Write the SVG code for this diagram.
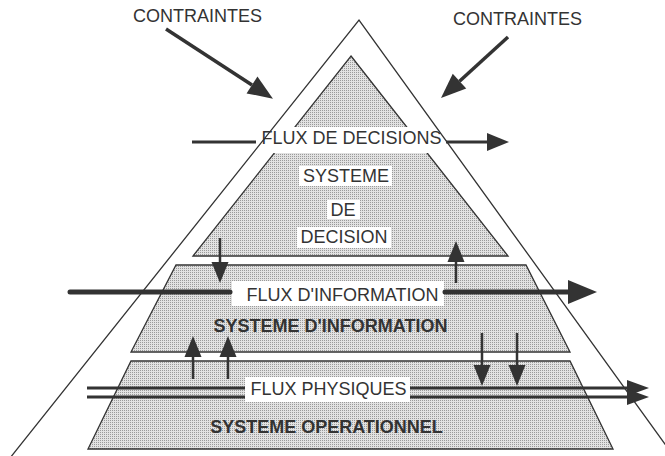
<svg xmlns="http://www.w3.org/2000/svg" width="665" height="456" viewBox="0 0 665 456">
<style>
.lvl{fill:url(#dots);stroke:#333;stroke-width:1.3}
.box{fill:#fff}
.edge{fill:none;stroke:#333;stroke-width:1.3}
.ln{stroke:#333;fill:none}
.t{font-family:"Liberation Sans",Arial,sans-serif;font-size:18px;fill:#333;text-anchor:middle}
.b{font-weight:bold}
</style>
<defs>
<pattern id="dots" width="2" height="2" patternUnits="userSpaceOnUse">
<rect width="2" height="2" fill="#e2e2e2"/>
<rect width="1" height="1" fill="#9a9a9a"/>
</pattern>
<marker id="hBig" markerUnits="userSpaceOnUse" orient="auto" overflow="visible" markerWidth="1" markerHeight="1"><path d="M0,-10 L25,0 L0,10 z" fill="#333"/></marker>
<marker id="hInfo" markerUnits="userSpaceOnUse" orient="auto" overflow="visible" markerWidth="1" markerHeight="1"><path d="M0,-12 L29,0 L0,12 z" fill="#333"/></marker>
<marker id="hMed" markerUnits="userSpaceOnUse" orient="auto" overflow="visible" markerWidth="1" markerHeight="1"><path d="M0,-9 L22,0 L0,9 z" fill="#333"/></marker>
<marker id="hSm" markerUnits="userSpaceOnUse" orient="auto" overflow="visible" markerWidth="1" markerHeight="1"><path d="M0,-8.5 L21,0 L0,8.5 z" fill="#333"/></marker>
<marker id="hPh" markerUnits="userSpaceOnUse" orient="auto" overflow="visible" markerWidth="1" markerHeight="1"><path d="M0,-8 L22,0 L0,8 z" fill="#333"/></marker>
</defs>
<rect width="665" height="456" fill="#fff"/>

<g id="decision">
<polygon class="lvl" points="351,56 508,256 193,256"/>
</g>
<g id="information">
<polygon class="lvl" points="176,265 526,265 570,352 131,352"/>
</g>
<g id="operationnel">
<polygon class="lvl" points="131,361 570,361 613,449 88,449"/>
</g>

<g id="label-boxes">
<rect class="box" x="255" y="127" width="193" height="26"/>
<rect class="box" x="299" y="166" width="93" height="20"/>
<rect class="box" x="327" y="200" width="33" height="19"/>
<rect class="box" x="297" y="227" width="94" height="21"/>
<rect class="box" x="232" y="281" width="212" height="25"/>
<rect class="box" x="245" y="377" width="165" height="25"/>
</g>

<g id="environnement">
<path class="edge" d="M10,458 L359,20 L675,458"/>
</g>

<g id="connectors">
<line class="ln" x1="166" y1="29" x2="252" y2="85" stroke-width="3.5" marker-end="url(#hBig)"/>
<line class="ln" x1="508" y1="37" x2="459.5" y2="81.2" stroke-width="3.5" marker-end="url(#hBig)"/>
<line class="ln" x1="192" y1="142" x2="256" y2="142" stroke-width="3"/>
<line class="ln" x1="446" y1="142" x2="487" y2="142" stroke-width="3" marker-end="url(#hMed)"/>
<line class="ln" x1="70" y1="292" x2="230" y2="292" stroke-width="5" stroke-linecap="round"/>
<line class="ln" x1="445" y1="292" x2="568" y2="292" stroke-width="5" stroke-linecap="round" marker-end="url(#hInfo)"/>
<line class="ln" x1="220" y1="238" x2="220" y2="262" stroke-width="2.5" marker-end="url(#hSm)"/>
<line class="ln" x1="456" y1="283" x2="456" y2="262" stroke-width="2.5" marker-end="url(#hSm)"/>
<line class="ln" x1="193" y1="379" x2="193" y2="357" stroke-width="2.5" marker-end="url(#hSm)"/>
<line class="ln" x1="228" y1="379" x2="228" y2="357" stroke-width="2.5" marker-end="url(#hSm)"/>
<line class="ln" x1="482" y1="333" x2="482" y2="365" stroke-width="2.5" marker-end="url(#hSm)"/>
<line class="ln" x1="517" y1="333" x2="517" y2="365" stroke-width="2.5" marker-end="url(#hSm)"/>
<line class="ln" x1="87" y1="388" x2="245" y2="388" stroke-width="3"/>
<line class="ln" x1="87" y1="397" x2="245" y2="397" stroke-width="3"/>
<line class="ln" x1="410" y1="388" x2="627" y2="388" stroke-width="3" marker-end="url(#hPh)"/>
<line class="ln" x1="410" y1="397" x2="627" y2="397" stroke-width="3" marker-end="url(#hPh)"/>
</g>

<g id="labels">
<text class="t" x="197.5" y="22">CONTRAINTES</text>
<text class="t" x="517.5" y="25">CONTRAINTES</text>
<text class="t" x="351.5" y="144">FLUX DE DECISIONS</text>
<text class="t" x="346" y="182">SYSTEME</text>
<text class="t" x="343" y="216">DE</text>
<text class="t" x="344" y="243">DECISION</text>
<text class="t" x="342.5" y="301">FLUX D'INFORMATION</text>
<text class="t b" x="330.5" y="332">SYSTEME D'INFORMATION</text>
<text class="t" x="328.5" y="395">FLUX PHYSIQUES</text>
<text class="t b" x="326.5" y="433">SYSTEME OPERATIONNEL</text>
</g>
</svg>
